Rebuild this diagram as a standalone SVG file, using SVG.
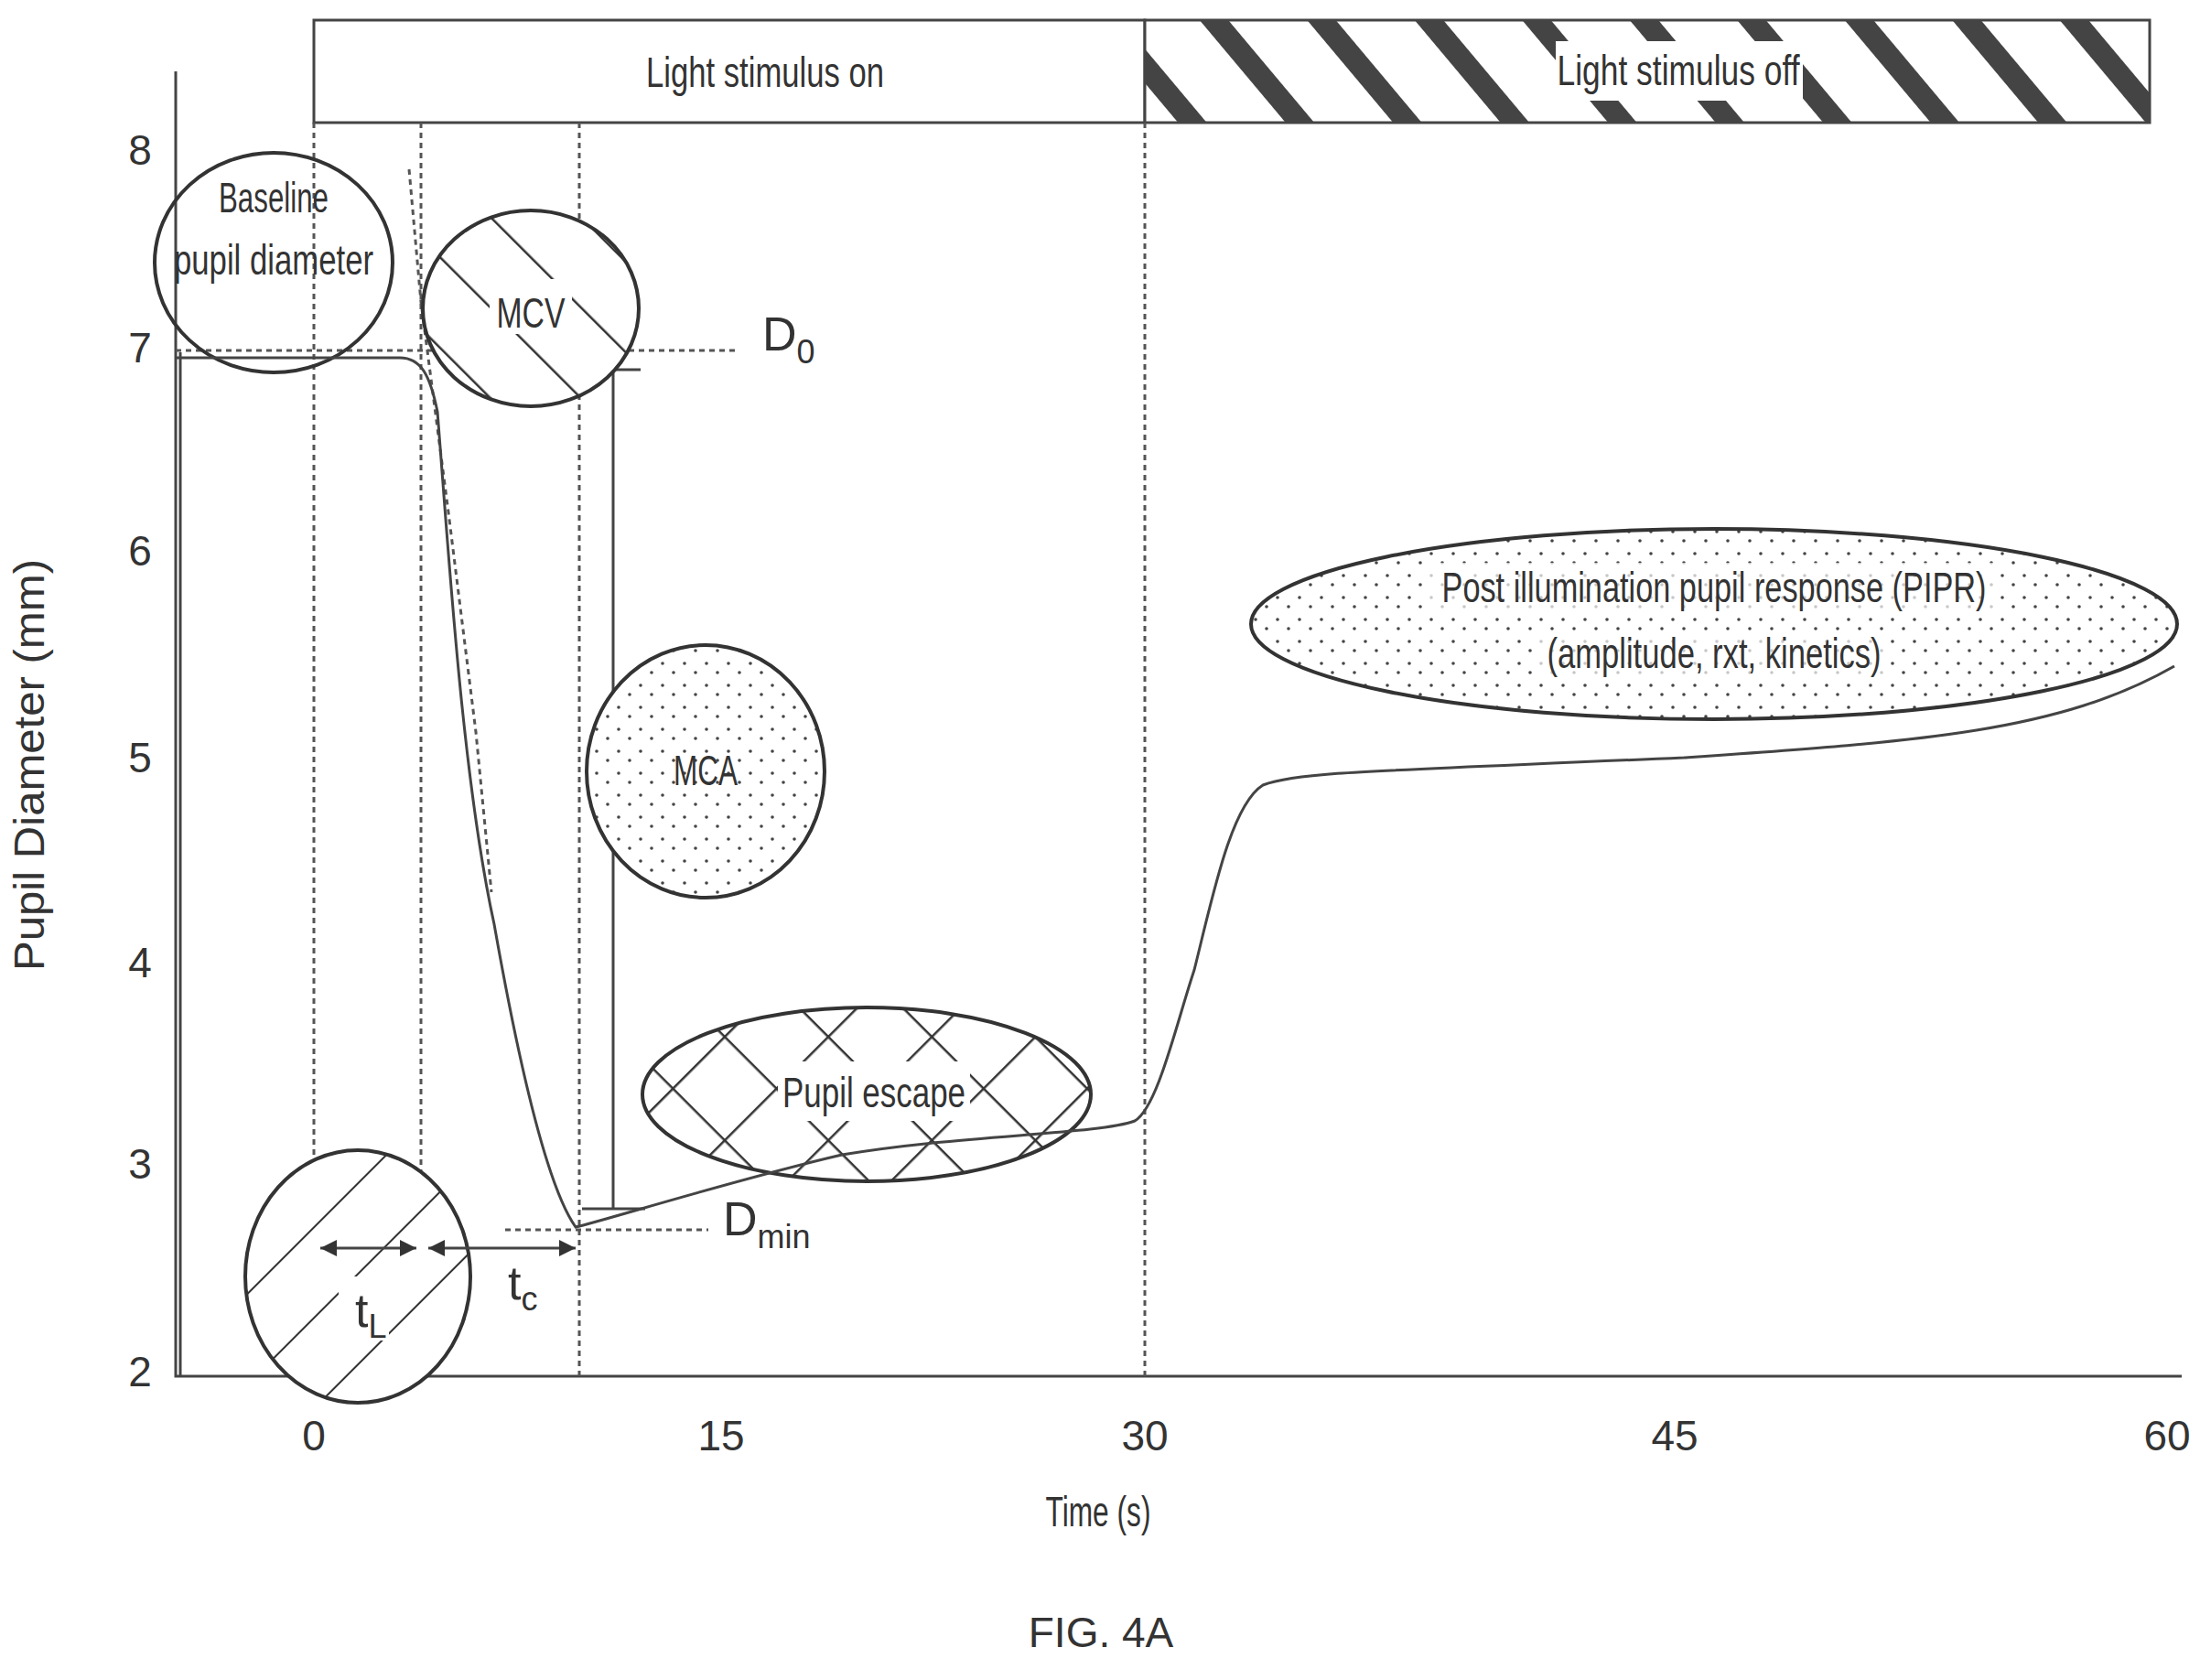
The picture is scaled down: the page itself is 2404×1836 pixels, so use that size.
<svg xmlns="http://www.w3.org/2000/svg" width="2404" height="1836" viewBox="0 0 2404 1836">
<style>
text{font-family:"Liberation Sans",Arial,sans-serif;fill:#333}
.lbl{font-size:46px;text-anchor:middle}
.ln{fill:none;stroke:#444;stroke-width:3}
.dash{fill:none;stroke:#555;stroke-width:3;stroke-dasharray:6 5}
.ell{stroke:#333;stroke-width:4}
</style>
<defs>
<pattern id="stripes" width="90" height="90" patternUnits="userSpaceOnUse" patternTransform="rotate(-40)"><rect width="90" height="90" fill="#fff"/><rect width="24" height="90" fill="#444"/></pattern>
<pattern id="hatchB" width="70" height="70" patternUnits="userSpaceOnUse" patternTransform="rotate(-45)"><rect width="70" height="70" fill="#fff"/><line x1="0" y1="0" x2="0" y2="70" stroke="#333" stroke-width="5"/></pattern>
<pattern id="hatchF" width="70" height="70" patternUnits="userSpaceOnUse" patternTransform="rotate(45)"><rect width="70" height="70" fill="#fff"/><line x1="0" y1="0" x2="0" y2="70" stroke="#333" stroke-width="4"/></pattern>
<pattern id="cross" width="80" height="80" patternUnits="userSpaceOnUse" patternTransform="rotate(45)"><rect width="80" height="80" fill="#fff"/><path d="M0 0V80M0 0H80" stroke="#333" stroke-width="5"/></pattern>
<pattern id="dots" width="24" height="24" patternUnits="userSpaceOnUse"><rect width="24" height="24" fill="#fff"/><circle cx="4" cy="5" r="1.8" fill="#444"/><circle cx="16" cy="15" r="1.8" fill="#444"/></pattern>
<marker id="ah" viewBox="0 0 10 10" refX="10" refY="5" markerWidth="6" markerHeight="6" orient="auto-start-reverse"><path d="M0 0L10 5L0 10Z" fill="#333"/></marker>
</defs>
<rect width="2404" height="1836" fill="#fff"/>

<g id="stimulus-bar">
<rect x="343" y="22" width="908" height="112" style="fill:#fff" class="ln"/>
<rect x="1251" y="22" width="1098" height="112" style="fill:url(#stripes)" class="ln"/>
<rect x="1700" y="45" width="270" height="65" fill="#fff"/>
<text class="lbl" x="836" y="95" textLength="260" lengthAdjust="spacingAndGlyphs">Light stimulus on</text>
<text class="lbl" x="1834" y="93" textLength="265" lengthAdjust="spacingAndGlyphs">Light stimulus off</text>
</g>

<g id="axes">
<path class="ln" d="M192 78V1504H2384"/>
<path class="ln" d="M197 1504V385"/>
<g class="lbl" font-size="44">
<text x="153" y="180">8</text>
<text x="153" y="396">7</text>
<text x="153" y="618">6</text>
<text x="153" y="844">5</text>
<text x="153" y="1068">4</text>
<text x="153" y="1288">3</text>
<text x="153" y="1515">2</text>
<text x="343" y="1585">0</text>
<text x="788" y="1585">15</text>
<text x="1251" y="1585">30</text>
<text x="1830" y="1585">45</text>
<text x="2368" y="1585">60</text>
</g>
<text class="lbl" x="1200" y="1668" font-size="56" textLength="115" lengthAdjust="spacingAndGlyphs">Time (s)</text>
<text class="lbl" transform="translate(48 836) rotate(-90)" font-size="50" textLength="450" lengthAdjust="spacingAndGlyphs">Pupil Diameter (mm)</text>
<text class="lbl" x="1203" y="1800" font-size="50" fill="#555">FIG. 4A</text>
</g>

<g id="guides">
<line class="dash" x1="343" y1="134" x2="343" y2="1504"/>
<line class="dash" x1="460" y1="134" x2="460" y2="1504"/>
<line class="dash" x1="633" y1="134" x2="633" y2="1504"/>
<line class="dash" x1="1251" y1="134" x2="1251" y2="1504"/>
<line class="ln" x1="670" y1="404" x2="670" y2="1320"/>
<line class="ln" x1="636" y1="1321" x2="705" y2="1321"/>
<line class="ln" x1="640" y1="404" x2="700" y2="404"/>
<line class="dash" x1="192" y1="383" x2="805" y2="383"/>
<line class="dash" x1="552" y1="1344" x2="774" y2="1344"/>
<path class="dash" d="M447 185L460 330L490 560L520 800L537 975" stroke-dasharray="4 14" stroke-width="5"/>
</g>

<g id="ellipses">
<g id="baseline"><ellipse class="ell" cx="299" cy="287" rx="130" ry="120" fill="none"/>
<text class="lbl" x="299" y="232" textLength="120" lengthAdjust="spacingAndGlyphs">Baseline</text>
<text class="lbl" x="299" y="300" textLength="218" lengthAdjust="spacingAndGlyphs">pupil diameter</text></g>
<g id="mcv"><ellipse class="ell" cx="580" cy="337" rx="118" ry="107" fill="url(#hatchB)"/>
<rect x="535" y="305" width="90" height="60" fill="#fff"/>
<text class="lbl" x="580" y="358" textLength="75" lengthAdjust="spacingAndGlyphs">MCV</text></g>
<g id="mca"><ellipse class="ell" cx="771" cy="843" rx="130" ry="138" fill="url(#dots)"/>
<text class="lbl" x="771" y="858" textLength="70" lengthAdjust="spacingAndGlyphs">MCA</text></g>
<g id="escape"><ellipse class="ell" cx="947" cy="1196" rx="245" ry="95" fill="url(#cross)"/>
<rect x="850" y="1160" width="210" height="65" fill="#fff"/>
<text class="lbl" x="955" y="1210" textLength="200" lengthAdjust="spacingAndGlyphs">Pupil escape</text></g>
<g id="latency"><ellipse class="ell" cx="391" cy="1395" rx="123" ry="138" fill="url(#hatchF)" stroke-width="3"/></g>
<g id="pipr"><ellipse class="ell" cx="1873" cy="682" rx="506" ry="104" fill="url(#dots)"/>
<rect x="1560" y="615" width="620" height="50" fill="#fff" opacity="0.7"/>
<rect x="1680" y="690" width="385" height="50" fill="#fff" opacity="0.7"/>
<text class="lbl" x="1873" y="658" textLength="595" lengthAdjust="spacingAndGlyphs">Post illumination pupil response (PIPR)</text>
<text class="lbl" x="1873" y="730" textLength="365" lengthAdjust="spacingAndGlyphs">(amplitude, rxt, kinetics)</text></g>
</g>

<g id="connectors">
<path class="ln" stroke="#333" stroke-width="4" d="M192 391L437 391C460 391 470 410 478 450C490 600 505 850 540 1010C570 1180 600 1300 629 1341C660 1334 800 1290 920 1262C1050 1240 1200 1240 1240 1225C1265 1210 1285 1120 1305 1060C1325 980 1345 880 1380 858C1420 843 1500 843 1840 828C2100 810 2250 800 2376 728"/>
<line class="ln" x1="350" y1="1364" x2="455" y2="1364" stroke-width="4" marker-start="url(#ah)" marker-end="url(#ah)"/>
<line class="ln" x1="468" y1="1364" x2="629" y2="1364" stroke-width="4" marker-start="url(#ah)" marker-end="url(#ah)"/>
<rect x="370" y="1395" width="55" height="70" fill="#fff"/>
<text x="388" y="1450" font-size="52">t<tspan font-size="36" dy="12">L</tspan></text>
<text x="555" y="1420" font-size="52">t<tspan font-size="36" dy="12">c</tspan></text>
<text x="833" y="383" font-size="52">D<tspan font-size="36" dy="14">0</tspan></text>
<text x="790" y="1350" font-size="52">D<tspan font-size="36" dy="14">min</tspan></text>
</g>
</svg>
